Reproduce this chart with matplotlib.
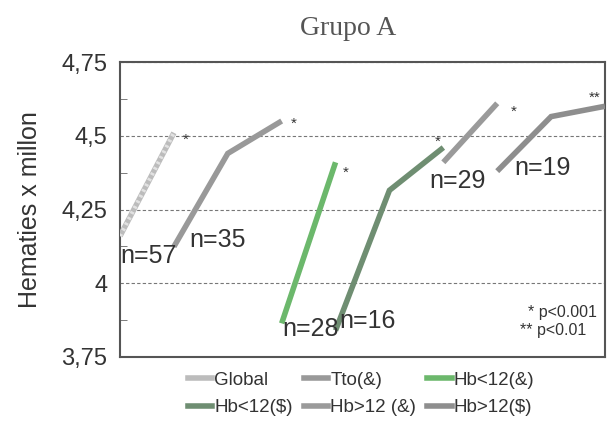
import matplotlib
matplotlib.use("Agg")
import matplotlib.pyplot as plt
from matplotlib.lines import Line2D
from matplotlib.ticker import MultipleLocator, FuncFormatter

plt.rcParams["font.family"] = ["Liberation Sans", "DejaVu Sans"]

# ---- data ---- #
series_names = ["Global", "Tto(&)", "Hb<12(&)", "Hb<12($)", "Hb>12 (&)", "Hb>12($)"]
series_x = [[0, 1], [1, 2, 3], [3, 4], [4, 5, 6], [6, 7], [7, 8, 9]]
series_y = [
    [4.16, 4.51],
    [4.124, 4.44, 4.55],
    [3.864, 4.41],
    [3.84, 4.315, 4.46],
    [4.41, 4.61],
    [4.38, 4.565, 4.60],
]
series_colors = ["#bcbcbc", "#999999", "#6cb86c", "#6f8e72", "#9a9a9a", "#8e8e8e"]

n_labels = ["n=57", "n=35", "n=28", "n=16", "n=29", "n=19"]
n_pos = [(0.0, 4.094), (1.28, 4.145), (3.02, 3.845), (4.07, 3.872), (5.74, 4.345), (7.31, 4.39)]

star_labels = ["*", "*", "*", "*", "*", "**"]
star_pos = [(1.22, 4.487), (3.22, 4.54), (4.19, 4.375), (5.89, 4.48), (7.30, 4.58), (8.81, 4.63)]

yticks = [3.75, 4.0, 4.25, 4.5, 4.75]

fig = plt.figure(figsize=(6.08, 4.21), dpi=100)
ax = fig.add_axes([120 / 608, 64 / 421, 485 / 608, 295 / 421])

for xs, ys, c in zip(series_x, series_y, series_colors):
    ax.plot(xs, ys, color=c, lw=4, solid_capstyle="butt", solid_joinstyle="miter", zorder=3)
# striped look of the Global line
ax.plot(series_x[0], series_y[0], color="#e2e2e2", lw=3, dashes=(0.6, 0.9), zorder=4)

for lab, (x, y) in zip(n_labels, n_pos):
    ax.text(x, y, lab, fontsize=18, color="#333333", ha="left", va="center", zorder=5)
for lab, (x, y) in zip(star_labels, star_pos):
    ax.text(x, y, lab, fontsize=11, color="#333333", ha="center", va="center")

ax.text(8.84, 3.90, "* p<0.001", fontsize=11.5, color="#333333", ha="right", va="center")
ax.text(8.66, 3.84, "** p<0.01", fontsize=11.5, color="#333333", ha="right", va="center")

ax.set_xlim(0, 9)
ax.set_ylim(3.75, 4.75)
ax.set_xticks([])
ax.set_yticks(yticks)
ax.yaxis.set_major_formatter(FuncFormatter(lambda v, p: f"{v:g}".replace(".", ",")))
ax.yaxis.set_minor_locator(MultipleLocator(0.125))
ax.tick_params(axis="y", which="major", length=0, labelsize=17, labelcolor="#333333", pad=9)
ax.tick_params(axis="y", which="minor", direction="in", length=5, color="#666666")
ax.grid(axis="y", which="major", color="#777777", lw=0.8, ls=(0, (3, 2)))
for s in ax.spines.values():
    s.set_color("#555555")
    s.set_linewidth(1.5)

ax.set_ylabel("Hematies x millon", fontsize=18, color="#333333", labelpad=14)
fig.text(0.572, 0.933, "Grupo A", fontsize=20, family=["Liberation Serif"], color="#555555",
         ha="center", va="center")

handles = [Line2D([], [], color=c, lw=4) for c in series_colors]
order = [0, 3, 1, 4, 2, 5]
fig.legend([handles[i] for i in order], [series_names[i] for i in order],
           ncol=3, loc="center", bbox_to_anchor=(0.594, 0.064), frameon=False,
           fontsize=13.5, handlelength=1.3, handletextpad=0.1, columnspacing=0.6,
           labelspacing=0.55, labelcolor="#333333")

fig.savefig("out.png", dpi=100)
